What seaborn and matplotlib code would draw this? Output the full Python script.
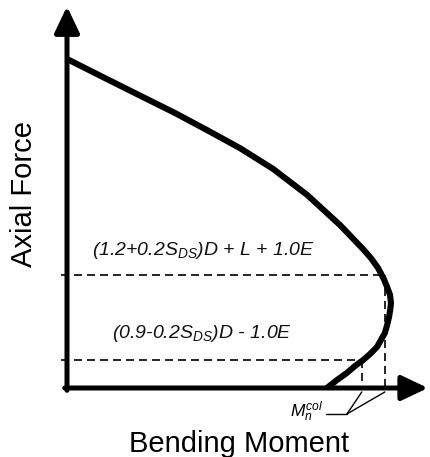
import matplotlib
matplotlib.use("Agg")
import matplotlib.pyplot as plt
import seaborn as sns
import pandas as pd

# Interaction-diagram curve (bending moment vs axial force, normalised units)
moment = [0.000, 0.117, 0.235, 0.333, 0.432, 0.534, 0.636, 0.741, 0.843, 0.914,
          0.938, 0.960, 0.978, 0.988, 0.997, 1.000, 0.997, 0.994, 0.988,
          0.981, 0.969, 0.957, 0.935, 0.914, 0.889, 0.864, 0.833, 0.802]
axial = [1.000, 0.942, 0.884, 0.836, 0.784, 0.729, 0.666, 0.587, 0.495, 0.422,
         0.395, 0.365, 0.331, 0.307, 0.283, 0.258, 0.234, 0.216, 0.191,
         0.167, 0.146, 0.125, 0.103, 0.085, 0.067, 0.046, 0.024, 0.000]

# Load combination levels and the corresponding moment capacities
combo_labels = ["(1.2+0.2S$_{DS}$)D + L + 1.0E", "(0.9-0.2S$_{DS}$)D - 1.0E"]
combo_axial = [0.343, 0.085]
combo_moment = [0.981, 0.910]

x_label = "Bending Moment"
y_label = "Axial Force"
cap_label = r"$M_n^{col}$"

sns.set_style("white")
plt.rcParams["font.family"] = ["Liberation Sans", "DejaVu Sans"]
plt.rcParams["text.color"] = "black"
plt.rcParams["mathtext.fontset"] = "custom"
plt.rcParams["mathtext.rm"] = "Liberation Sans"
plt.rcParams["mathtext.it"] = "Liberation Sans:italic"
plt.rcParams["mathtext.bf"] = "Liberation Sans:bold"

fig = plt.figure(figsize=(4.3, 4.57), dpi=100)
ax = fig.add_axes([0, 0, 1, 1])
ax.set_xlim(-0.2068, 1.1204)
ax.set_ylim(-0.2097, 1.1793)
ax.axis("off")

# Axes with arrows
arrow_kw = dict(arrowstyle="-|>,head_length=0.8,head_width=0.38", lw=3.6,
                color="black", shrinkA=0, shrinkB=0, mutation_scale=20)
ax.annotate("", xy=(0, 1.16), xytext=(0, -0.007), arrowprops=arrow_kw)
ax.annotate("", xy=(1.114, 0), xytext=(-0.007, 0), arrowprops=arrow_kw)

# Curve
df = pd.DataFrame({"M": moment, "P": axial})
sns.lineplot(data=df, x="M", y="P", sort=False, estimator=None, ax=ax,
             color="black", lw=4.4, solid_capstyle="butt",
             solid_joinstyle="round")

# Dashed load levels
dash = (0, (4.8, 3.0))
for p, m in zip(combo_axial, combo_moment):
    ax.plot([-0.02, m], [p, p], color="black", lw=1.2, linestyle=dash)
    ax.plot([m, m], [p, 0], color="black", lw=1.2, linestyle=dash)

# Combination labels
ax.text(0.420, 0.404, combo_labels[0], ha="center", va="baseline",
        fontsize=14, fontstyle="italic", color="#111111")
ax.text(0.417, 0.152, combo_labels[1], ha="center", va="baseline",
        fontsize=14, fontstyle="italic", color="#111111")

# Capacity label with leader lines
ax.text(0.790, -0.088, cap_label, ha="right", va="baseline", fontsize=12.5)
ax.plot([0.799, 0.864], [-0.079, -0.079], color="black", lw=1.0)
for m in combo_moment:
    ax.plot([0.864, m], [-0.079, -0.012], color="black", lw=1.0)

# Axis titles
ax.text(0.531, -0.195, x_label, ha="center", va="baseline", fontsize=21)
ax.text(-0.133, 0.591, y_label, ha="center", va="center", rotation=90, fontsize=21)

fig.savefig("out.png", dpi=100)
